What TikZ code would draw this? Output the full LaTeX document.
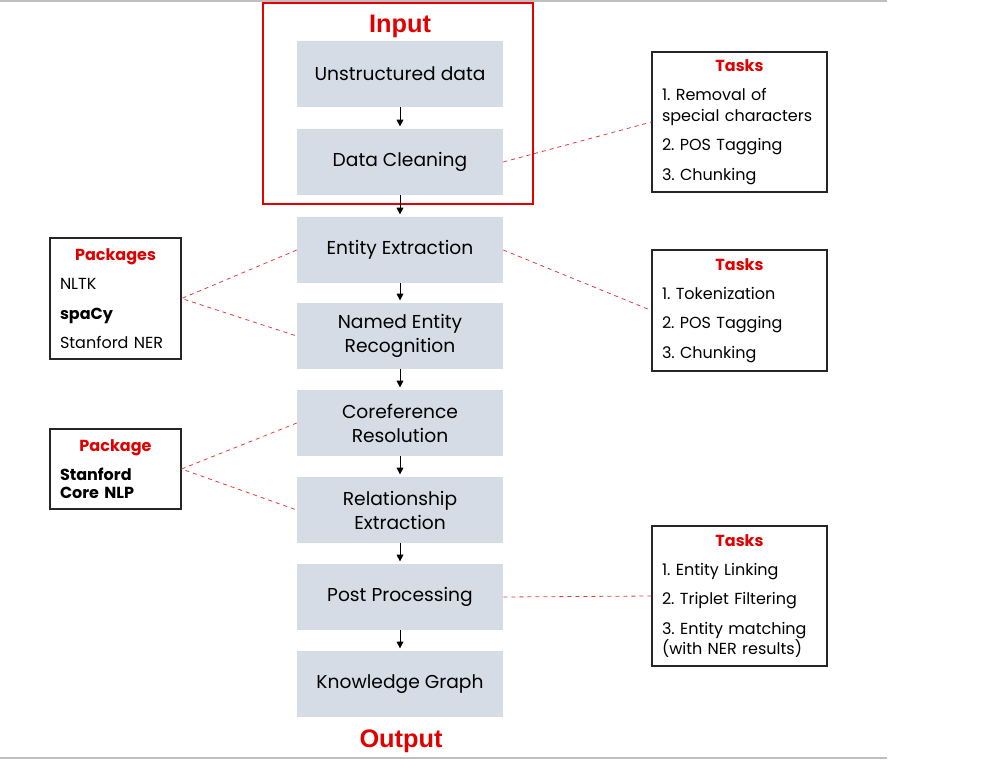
\documentclass[tikz,border=0pt]{standalone}
\usepackage{fontspec}
\setmainfont{Poppins}
\newfontfamily\headfont{Liberation Sans}
\usetikzlibrary{positioning,arrows.meta}
\definecolor{stagegray}{HTML}{D6DCE5}
\definecolor{titlered}{HTML}{E00000}
\definecolor{linkred}{HTML}{E03C3C}
\newcommand{\boxtitle}[1]{\makebox[\linewidth][c]{\textcolor{titlered}{\bfseries #1}}}
\frenchspacing

\tikzset{
  stage/.style={fill=stagegray, minimum width=154.5pt, minimum height=49pt,
    inner sep=0pt, align=center, font=\fontsize{14}{18}\selectfont},
  infobox/.style={draw=black!85, line width=0.9pt, fill=white, inner xsep=7.5pt,
    inner ysep=4pt, align=left, font=\fontsize{12}{15.5}\selectfont},
  flow/.style={-{Triangle[length=5pt,width=5pt]}, line width=0.6pt, shorten >=2pt},
  link/.style={draw=linkred, dashed, line width=0.6pt},
  headline/.style={text=titlered, font=\headfont\bfseries\fontsize{19}{22}\selectfont}
}

\begin{document}
\begin{tikzpicture}[x=0.75pt,y=-0.75pt]
  \useasboundingbox (0,0) rectangle (1006,760);
  % frame lines
  \draw[black!25, line width=1.2pt] (0,1) -- (887,1);
  \draw[black!25, line width=1.2pt] (0,758) -- (887,758);
  % input frame
  \draw[red!90!black, line width=0.8pt] (263,3) rectangle (533,204);
  \node[headline] (input) at (400,26) {Input};
  \node[headline] (output) at (401,741) {Output};

  % pipeline
  \node[stage] (raw) at (400,74) {Unstructured data};
  \node[stage] (clean) at (400,162) {Data Cleaning};
  \node[stage] (extract) at (400,250) {Entity Extraction};
  \node[stage] (ner) at (400,336) {Named Entity\\Recognition};
  \node[stage] (coref) at (400,423) {Coreference\\Resolution};
  \node[stage] (relation) at (400,510) {Relationship\\Extraction};
  \node[stage] (post) at (400,597) {Post Processing};
  \node[stage] (kg) at (400,684) {Knowledge Graph};

  \foreach \a/\b in {raw/clean, clean/extract, extract/ner, ner/coref,
                     coref/relation, relation/post, post/kg}
    \draw[flow] (\a.south) -- (\b.north);

  % side boxes
  \node[infobox, text width=116.25pt, minimum height=105pt] (tasksA) at (739.5,122)
    {\boxtitle{Tasks}\\[6.5pt]1. Removal of\\special characters\\[6.5pt]2. POS Tagging\\[6.5pt]3. Chunking};
  \node[infobox, text width=116.25pt, minimum height=90.75pt] (tasksB) at (739.5,310.5)
    {\boxtitle{Tasks}\\[6.5pt]1. Tokenization\\[6.5pt]2. POS Tagging\\[6.5pt]3. Chunking};
  \node[infobox, text width=116.25pt, minimum height=105pt] (tasksC) at (739.5,596)
    {\boxtitle{Tasks}\\[6.5pt]1. Entity Linking\\[6.5pt]2. Triplet Filtering\\[6.5pt]3. Entity matching\\(with NER results)};
  \node[infobox, text width=83.25pt, minimum height=90.75pt] (pkgA) at (115.5,298.5)
    {\boxtitle{Packages}\\[6.5pt]NLTK\\[6.5pt]\textbf{spaCy}\\[6.5pt]Stanford NER};
  \node[infobox, text width=83.25pt, minimum height=60pt] (pkgB) at (115.5,469)
    {\boxtitle{Package}\\[6pt]\textbf{Stanford}\\[-2pt]\textbf{Core NLP}};

  % dashed links
  \draw[link] (clean.east) -- (tasksA.west);
  \draw[link] (extract.east) -- (tasksB.west);
  \draw[link] (post.east) -- (tasksC.west);
  \draw[link] (extract.west) -- (pkgA.east) -- (ner.west);
  \draw[link] (coref.west) -- (pkgB.east) -- (relation.west);
\end{tikzpicture}
\end{document}
